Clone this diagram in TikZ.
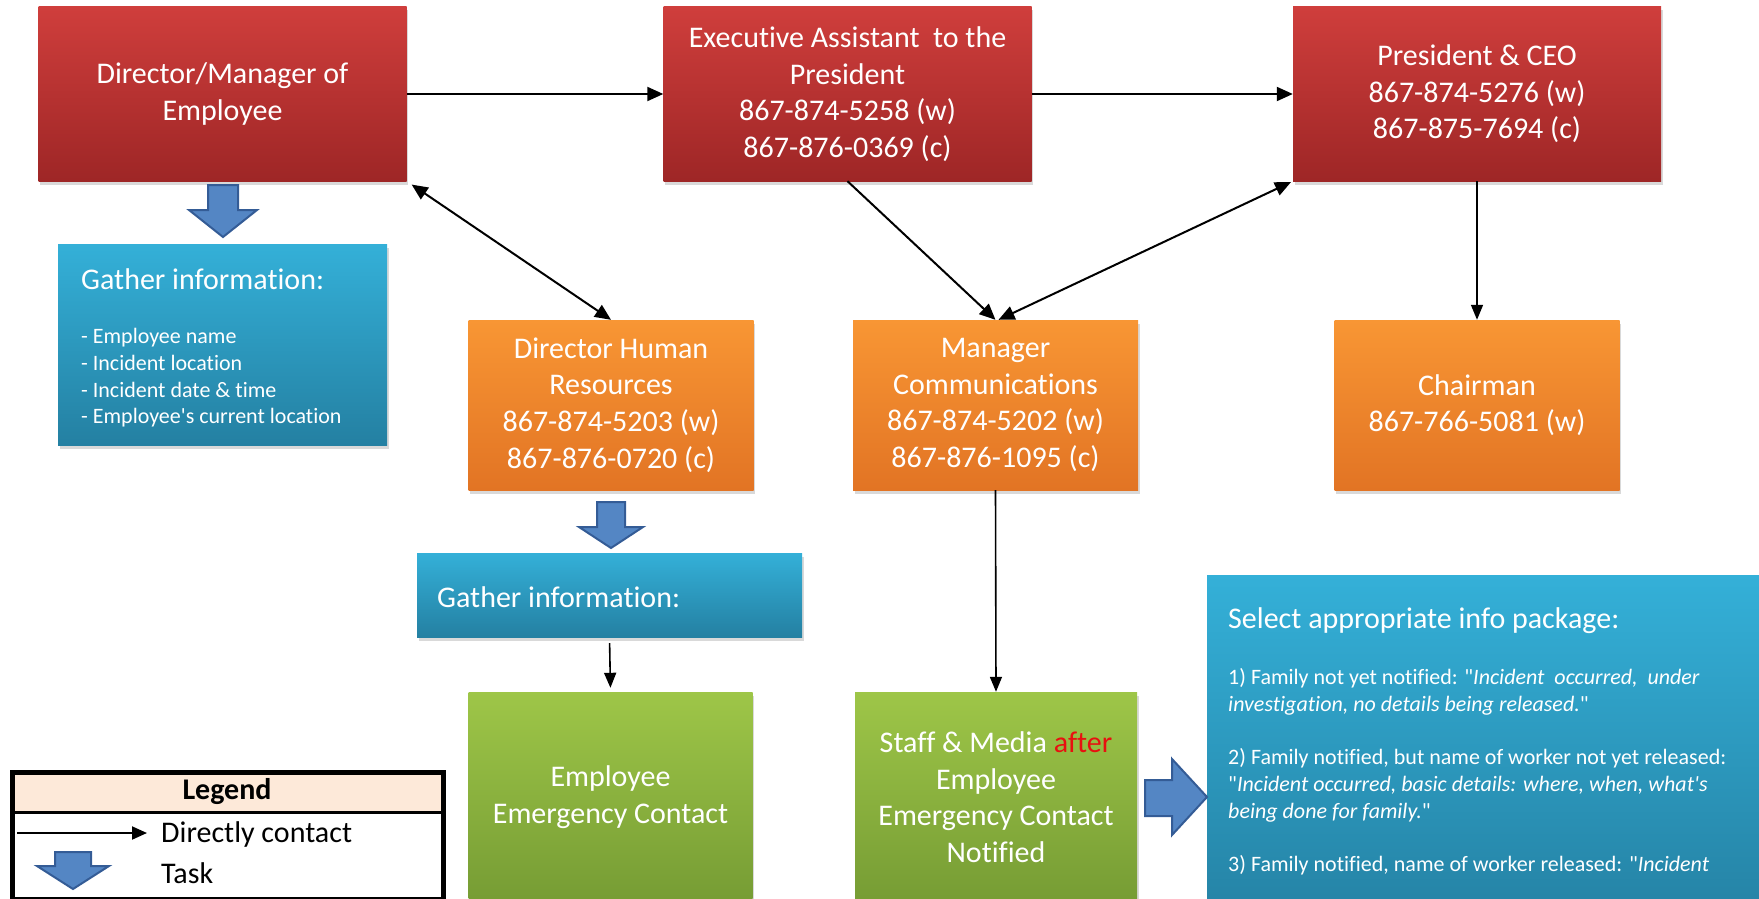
\documentclass[tikz,border=0pt]{standalone}
\usepackage{fontspec}
\setmainfont{Carlito}[Ligatures={TeXOff,NoCommon}]
\usetikzlibrary{shadows,arrows.meta}
\definecolor{redT}{RGB}{207,62,60}
\definecolor{redB}{RGB}{158,38,38}
\definecolor{orT}{RGB}{248,150,52}
\definecolor{orB}{RGB}{226,116,36}
\definecolor{grT}{RGB}{158,198,72}
\definecolor{grB}{RGB}{118,156,52}
\definecolor{blT}{RGB}{52,176,216}
\definecolor{blB}{RGB}{36,128,162}
\definecolor{arrF}{RGB}{84,134,196}
\definecolor{arrD}{RGB}{52,92,150}
\definecolor{legH}{RGB}{253,233,217}
\definecolor{afterred}{RGB}{232,16,16}
\newcommand{\mytask}[6]{%
  \filldraw[taskarrow] ({#1-#2},#3) -- ({#1+#2},#3) -- ({#1+#2},#4) -- ({#1+#5},#4) -- (#1,#6) -- ({#1-#5},#4) -- ({#1-#2},#4) -- cycle;}
\begin{document}
\begin{tikzpicture}[x=1pt,y=-1pt,
  box/.style={rectangle, inner sep=0pt, text=white, align=center,
    font=\fontsize{30}{36.6}\selectfont,
    drop shadow={shadow xshift=1.5pt, shadow yshift=-3.5pt, opacity=0.3}},
  redbox/.style={box, top color=redT, bottom color=redB, minimum width=368pt, minimum height=174pt},
  orbox/.style={box, top color=orT, bottom color=orB, minimum width=285pt, minimum height=170pt},
  grbox/.style={box, top color=grT, bottom color=grB, minimum width=284pt, minimum height=210pt},
  blbox/.style={box, top color=blT, bottom color=blB},
  conn/.style={line width=2pt, -{Triangle[length=16pt,width=14pt]}},
  conntwo/.style={line width=2pt, {Triangle[length=16pt,width=14pt]}-{Triangle[length=16pt,width=14pt]}},
  vconn/.style={line width=1.6pt, -{Triangle[length=15pt,width=12pt]}},
  taskarrow/.style={fill=arrF, draw=arrD, line width=2pt, line join=miter},
  smalltxt/.style={text=white, inner sep=0pt, font=\fontsize{22}{26.8}\selectfont, align=left},
  bigtxt/.style={text=white, inner sep=0pt, font=\fontsize{30}{36.6}\selectfont},
  legtxt/.style={text=black, inner sep=0pt, font=\fontsize{30}{36.6}\selectfont}
]
\useasboundingbox (0,0) rectangle (1759,899);
\clip (0,0) rectangle (1759,899);

% top row
\node[redbox] (dir) at (222.5,94) {Director/Manager of\\Employee};
\node[redbox] (exec) at (847.5,94) {Executive Assistant\ \ to the\\President\\867-874-5258 (w)\\867-876-0369 (c)};
\node[redbox] (pres) at (1477,94) {President \& CEO\\867-874-5276 (w)\\867-875-7694 (c)};

% first task box
\node[blbox, minimum width=329pt, minimum height=201pt] (g1) at (222.5,344.5) {};
\node[bigtxt, anchor=base west] (g1t) at (81,289) {Gather information:};
\node[smalltxt, anchor=north west] (g1l) at (81,328) {- Employee name\\- Incident location\\- Incident date \& time\\- Employee's current location};

% orange row
\node[orbox] (hr) at (611,405) {Director Human\\Resources\\867-874-5203 (w)\\867-876-0720 (c)};
\node[orbox] (mgr) at (995.5,405) {Manager\\Communications\\867-874-5202 (w)\\867-876-1095 (c)};
\node[orbox] (chair) at (1477,405) {Chairman\\867-766-5081 (w)};

% second task box
\node[blbox, minimum width=385pt, minimum height=84pt] (g2) at (609.5,595) {};
\node[bigtxt, anchor=base west] (g2t) at (437,607) {Gather information:};

% green row
\node[grbox] (eec) at (610.5,797) {Employee\\Emergency Contact};
\node[grbox, minimum width=282pt] (staff) at (996,797) {Staff \& Media \textcolor{afterred}{after}\\Employee\\Emergency Contact\\Notified};

% info package box
\node[blbox, minimum width=600pt, minimum height=360pt, anchor=north west] (sel) at (1207,575) {};
\node[bigtxt, anchor=base west] (selt) at (1228,628) {Select appropriate info package:};
\node[smalltxt, anchor=north west] (sell) at (1228,668) {1) Family not yet notified: "\textit{Incident\ \ occurred,\ \ under}\\
\textit{investigation, no details being released.}"\\[26.8pt]
2) Family notified, but name of worker not yet released:\\
"\textit{Incident occurred, basic details: where, when, what's}\\
\textit{being done for family.}"\\[26.8pt]
3) Family notified, name of worker released: "\textit{Incident}};

% connectors
\draw[conn] (dir.east) -- (exec.west);
\draw[conn] (exec.east) -- (pres.west);
\draw[conntwo, shorten <=6pt] (dir.south east) -- (hr.north);
\draw[conn] (exec.south) -- (mgr.north);
\draw[conntwo, shorten >=2pt] ([xshift=3pt]mgr.north) -- (pres.south west);
\draw[vconn] (pres.south) -- (chair.north);
\draw[vconn] (mgr.south) -- (staff.north);
\draw[vconn, shorten <=6pt, shorten >=4pt] (g2.south) -- (eec.north);

% task arrows
\mytask{223}{15}{185}{210}{34}{237}
\mytask{611}{14}{502}{527}{32}{548}
\filldraw[taskarrow] (1145,780) -- (1172,780) -- (1172,759) -- (1207,797) -- (1172,835) -- (1172,816) -- (1145,816) -- cycle;

% legend
\node[fill=legH, minimum width=431pt, minimum height=42pt, inner sep=0pt, anchor=north west] (leghead) at (10,770) {};
\node[legtxt, font=\bfseries\fontsize{30}{36.6}\selectfont] (legt) at (227,792) {Legend};
\draw[line width=2.5pt] (leghead.south west) -- (leghead.south east);
\node[draw, line width=4.5pt, minimum width=431pt, minimum height=127pt, inner sep=0pt, anchor=north west] (legbox) at (10,770) {};
\coordinate (la) at (17,833);
\coordinate (lb) at (147,833);
\draw[line width=2pt, -{Triangle[length=15pt,width=13pt]}] (la) -- (lb);
\node[legtxt, anchor=west] (legc) at (161,834) {Directly contact};
\mytask{73}{18}{852}{866}{36}{889}
\node[legtxt, anchor=west] (legk) at (161,873) {Task};
\end{tikzpicture}
\end{document}
